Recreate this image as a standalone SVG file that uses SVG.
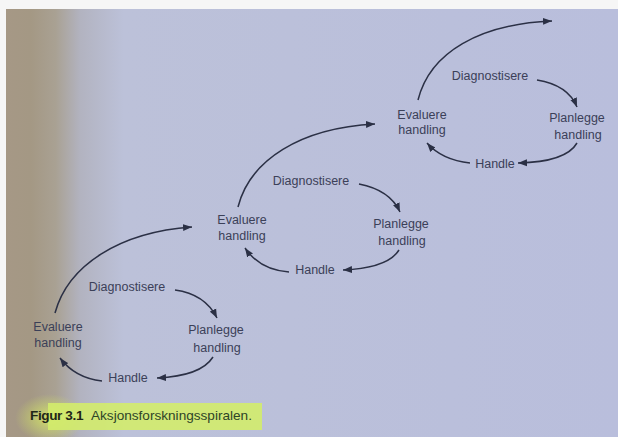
<svg xmlns="http://www.w3.org/2000/svg" width="618" height="437" viewBox="0 0 618 437">
<defs>
<linearGradient id="page" x1="0" y1="0" x2="1" y2="0">
<stop offset="0" stop-color="#a69886"/>
<stop offset="0.05" stop-color="#a49884"/>
<stop offset="0.09" stop-color="#a9a193"/>
<stop offset="0.13" stop-color="#b2b3c0"/>
<stop offset="0.2" stop-color="#bcc1d9"/>
<stop offset="1" stop-color="#b9bedc"/>
</linearGradient>
<radialGradient id="glow" cx="0.5" cy="0.5" r="0.5">
<stop offset="0" stop-color="#d6ea60" stop-opacity="0.85"/>
<stop offset="1" stop-color="#d6ea60" stop-opacity="0"/>
</radialGradient>
<marker id="ah" markerWidth="10" markerHeight="8" refX="9" refY="4" orient="auto" markerUnits="userSpaceOnUse">
<path d="M0,0.5 L9,4 L0,7.5 Z" fill="#2b3045"/>
</marker>
</defs>
<style>
.t{font-family:"Liberation Sans",Arial,sans-serif;font-size:12.5px;fill:#3b4058;text-anchor:middle}
.c{fill:none;stroke:#2b3045;stroke-width:1.5;marker-end:url(#ah)}
.cap{font-family:"Liberation Sans",Arial,sans-serif;font-size:13.6px;fill:#2e4428}
</style>
<rect x="0" y="0" width="618" height="437" fill="url(#page)"/>
<rect x="0" y="0" width="618" height="9" fill="#f6f6f6"/>
<rect x="0" y="0" width="6" height="437" fill="#f6f6f6"/>
<ellipse cx="50" cy="418" rx="35" ry="24" fill="url(#glow)"/>
<rect x="48" y="403" width="214" height="27" fill="#d3ec6c" opacity="0.9"/>

<g id="cluster1">
<g id="diag1"><text class="t" x="127" y="291">Diagnostisere</text></g>
<g id="plan1"><text class="t" x="216" y="334">Planlegge</text><text class="t" x="217" y="352">handling</text></g>
<g id="handle1"><text class="t" x="128" y="382">Handle</text></g>
<g id="eval1"><text class="t" x="58" y="331">Evaluere</text><text class="t" x="58" y="347">handling</text></g>
</g>
<g id="cluster2">
<g id="diag2"><text class="t" x="311" y="185">Diagnostisere</text></g>
<g id="plan2"><text class="t" x="401" y="228">Planlegge</text><text class="t" x="402" y="245">handling</text></g>
<g id="handle2"><text class="t" x="315" y="274">Handle</text></g>
<g id="eval2"><text class="t" x="242" y="224">Evaluere</text><text class="t" x="242" y="240">handling</text></g>
</g>
<g id="cluster3">
<g id="diag3"><text class="t" x="490" y="80">Diagnostisere</text></g>
<g id="plan3"><text class="t" x="577" y="122">Planlegge</text><text class="t" x="578" y="139">handling</text></g>
<g id="handle3"><text class="t" x="495" y="168">Handle</text></g>
<g id="eval3"><text class="t" x="422" y="119">Evaluere</text><text class="t" x="422" y="134">handling</text></g>
</g>

<g id="connectors">
<path class="c" d="M175,290 Q205,294 217,318"/>
<path class="c" d="M213,357 Q201,376 157,378"/>
<path class="c" d="M102,381 Q75,378 60,358"/>
<path class="c" d="M55,313 C68,265 120,232 192,227"/>

<path class="c" d="M359,184 Q390,190 400,212"/>
<path class="c" d="M399,250 Q388,268 343,270"/>
<path class="c" d="M289,272 Q260,270 245,248"/>
<path class="c" d="M238,207 C250,160 300,128 375,124"/>

<path class="c" d="M537,80 Q568,85 577,107"/>
<path class="c" d="M577,143 Q566,162 518,163"/>
<path class="c" d="M470,163 Q442,160 427,143"/>
<path class="c" d="M418,100 C430,52 480,24 552,21"/>
</g>

<g id="caption">
<text class="cap" x="30" y="420"><tspan font-weight="bold" fill="#1f2618" letter-spacing="-0.4">Figur 3.1</tspan><tspan x="91">Aksjonsforskningsspiralen.</tspan></text>
</g>
</svg>
